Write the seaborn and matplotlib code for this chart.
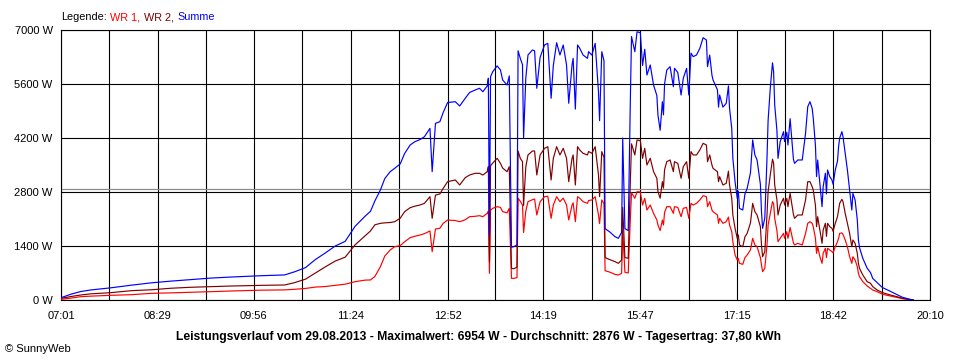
import matplotlib
matplotlib.use("Agg")
import matplotlib.pyplot as plt
import seaborn as sns
import pandas as pd

# ---------------- data ----------------
times = [
    "07:01", "07:10", "07:19", "07:28", "07:46", "08:05", "08:23", "08:41", "08:59", "09:17",
    "09:35", "10:03", "10:24", "10:33", "10:43", "10:52", "11:01", "11:10", "11:19", "11:28",
    "11:37", "11:42", "11:46", "11:51", "11:55", "12:00", "12:04", "12:09", "12:13", "12:18",
    "12:22", "12:27", "12:31", "12:36", "12:38", "12:41", "12:45", "12:48", "12:52", "12:59",
    "13:03", "13:08", "13:12", "13:17", "13:21", "13:24", "13:28", "13:29", "13:30", "13:31",
    "13:33", "13:37", "13:40", "13:42", "13:46", "13:48", "13:50", "13:52", "13:55", "13:56",
    "13:58", "14:00", "14:01", "14:03", "14:05", "14:09", "14:11", "14:13", "14:16", "14:20",
    "14:23", "14:26", "14:28", "14:31", "14:34", "14:37", "14:40", "14:42", "14:45", "14:46",
    "14:48", "14:50", "14:52", "14:55", "14:59", "15:00", "15:03", "15:06", "15:09", "15:10",
    "15:12", "15:14", "15:15", "15:19", "15:24", "15:27", "15:30", "15:31", "15:33", "15:36",
    "15:38", "15:39", "15:42", "15:44", "15:47", "15:49", "15:51", "15:53", "15:56", "15:59",
    "16:02", "16:03", "16:05", "16:07", "16:08", "16:09", "16:11", "16:14", "16:17", "16:18",
    "16:21", "16:24", "16:26", "16:29", "16:31", "16:33", "16:35", "16:38", "16:41", "16:44",
    "16:47", "16:48", "16:50", "16:52", "16:53", "16:57", "16:58", "16:59", "17:02", "17:05",
    "17:07", "17:08", "17:10", "17:11", "17:13", "17:15", "17:16", "17:17", "17:20", "17:22",
    "17:24", "17:27", "17:29", "17:31", "17:33", "17:36", "17:37", "17:38", "17:40", "17:42",
    "17:43", "17:45", "17:47", "17:48", "17:49", "17:51", "17:52", "17:54", "17:57", "17:58",
    "18:00", "18:01", "18:03", "18:06", "18:07", "18:10", "18:14", "18:17", "18:19", "18:21",
    "18:23", "18:24", "18:26", "18:27", "18:28", "18:30", "18:32", "18:33", "18:35", "18:36",
    "18:37", "18:39", "18:41", "18:42", "18:44", "18:46", "18:47", "18:48", "18:50", "18:51",
    "18:53", "18:55", "18:56", "18:57", "18:59", "19:00", "19:02", "19:04", "19:05", "19:06",
    "19:09", "19:13", "19:16", "19:18", "19:22", "19:25", "19:27", "19:34", "19:40", "19:45",
    "19:52", "19:55",
]

summe = [
    60, 150, 220, 260, 315, 385, 445, 490, 530, 568,
    595, 630, 650, 730, 840, 1050, 1220, 1400, 1520, 1910,
    2170, 2300, 2570, 2852, 3150, 3330, 3414, 3530, 3800, 4018,
    4100, 4160, 4235, 4450, 3327, 4580, 4623, 4860, 5120, 5141,
    5030, 5229, 5380, 5444, 5489, 5400, 5550, 5748, 1685, 5790,
    5919, 6070, 5963, 5704, 5574, 5810, 1370, 1380, 1426, 6460,
    6265, 6100, 4200, 5748, 6352, 6482, 6460, 5489, 6290, 6611,
    6654, 5230, 6080, 6670, 6352, 6611, 6093, 5100, 6100, 6265,
    4950, 6611, 6524, 6352, 6265, 6438, 6350, 6654, 5400, 4650,
    6438, 6200, 1850, 1770, 1642, 1599, 1750, 4200, 1850, 1800,
    5300, 6830, 6438, 6954, 6930, 6080, 6500, 5833, 6093, 5574,
    5300, 4796, 4400, 5141, 4800, 5600, 5960, 6050, 5530, 6006,
    5900, 5315, 5750, 6006, 5315, 6400, 6309, 6352, 6524, 6800,
    6740, 6050, 6350, 5833, 5704, 5450, 5000, 5315, 5000, 5100,
    5550, 4970, 4450, 3673, 3068, 2636, 2820, 2377, 2333, 2750,
    2895, 3300, 4150, 3760, 3630, 3000, 2290, 1858, 2118, 3673,
    4650, 5500, 6150, 5919, 5056, 4400, 3673, 4105, 4364, 4105,
    4350, 4019, 4700, 3650, 3543, 3630, 3630, 4321, 5012, 5141,
    4970, 4720, 4000, 3200, 3630, 3025, 2419, 2938, 3285, 2750,
    3371, 3197, 3111, 3000, 3371, 3600, 3975, 4200, 4364, 4235,
    3803, 3371, 3111, 2852, 2333, 2765, 2593, 2074, 1560, 1360,
    1080, 821, 710, 560, 450, 370, 320, 225, 140, 70,
    17, 0,
]

wr2 = [
    43, 90, 130, 160, 190, 242, 265, 305, 330, 346,
    362, 380, 389, 449, 540, 700, 860, 1010, 1110, 1430,
    1660, 1790, 1950, 1988, 2000, 2010, 2030, 2120, 2290, 2394,
    2430, 2463, 2506, 2679, 2117, 2720, 2750, 2895, 3068, 3111,
    2982, 3171, 3241, 3285, 3285, 3240, 3327, 3457, 994, 3480,
    3550, 3673, 3543, 3420, 3327, 3457, 821, 810, 850, 3863,
    3673, 3586, 2450, 3450, 3760, 3863, 3863, 3241, 3760, 3932,
    3975, 3111, 3673, 3975, 3760, 3932, 3673, 3068, 3673, 3760,
    2982, 3975, 3889, 3803, 3760, 3850, 3803, 3975, 3241, 2680,
    3846, 3700, 1100, 1050, 994, 951, 1037, 2400, 1100, 1080,
    3150, 4050, 3760, 4148, 4130, 3673, 3932, 3500, 3673, 3327,
    3155, 2808, 2640, 3068, 2900, 3380, 3586, 3630, 3327, 3586,
    3543, 3155, 3457, 3586, 3155, 3846, 3760, 3760, 3889, 4062,
    4018, 3586, 3760, 3500, 3414, 3327, 3068, 3197, 2982, 3025,
    3340, 2982, 2636, 2204, 1858, 1599, 1685, 1426, 1382, 1640,
    1728, 2000, 2506, 2290, 2204, 1900, 1426, 1123, 1253, 2204,
    2808, 3250, 3650, 3550, 2982, 2600, 2204, 2463, 2636, 2463,
    2636, 2420, 2765, 2220, 2117, 2204, 2204, 2593, 3068, 3068,
    2938, 2852, 2450, 1901, 2160, 1815, 1469, 1815, 1988, 1650,
    1988, 1901, 1858, 1780, 1988, 2160, 2333, 2506, 2610, 2550,
    2247, 1988, 1858, 1728, 1382, 1556, 1469, 1210, 951, 821,
    648, 475, 432, 346, 259, 216, 190, 130, 86, 43,
    9, 0,
]

wr1 = [
    17, 50, 86, 100, 121, 138, 173, 185, 200, 216,
    233, 255, 262, 277, 300, 335, 350, 380, 410, 475,
    515, 520, 610, 864, 1140, 1300, 1382, 1410, 1510, 1616,
    1650, 1685, 1720, 1789, 1253, 1840, 1860, 1988, 2074, 2060,
    2030, 2080, 2160, 2170, 2186, 2160, 2247, 2300, 691, 2330,
    2377, 2420, 2400, 2290, 2260, 2377, 562, 560, 580, 2636,
    2560, 2463, 1750, 2300, 2549, 2600, 2618, 2204, 2549, 2679,
    2690, 2117, 2463, 2679, 2549, 2640, 2463, 2074, 2463, 2520,
    2030, 2679, 2636, 2549, 2506, 2580, 2593, 2679, 2204, 1980,
    2593, 2500, 760, 725, 665, 648, 691, 1800, 720, 700,
    2150, 2780, 2636, 2808, 2800, 2463, 2636, 2333, 2463, 2247,
    2074, 1944, 1800, 2073, 1944, 2270, 2420, 2420, 2247, 2420,
    2400, 2160, 2377, 2400, 2117, 2506, 2463, 2506, 2593, 2705,
    2679, 2420, 2549, 2333, 2290, 2204, 1988, 2117, 1988, 2030,
    2150, 1944, 1771, 1512, 1167, 1037, 1080, 951, 925, 1100,
    1167, 1300, 1599, 1426, 1382, 1100, 907, 734, 821, 1426,
    1944, 2250, 2550, 2500, 2117, 1800, 1512, 1599, 1728, 1599,
    1771, 1599, 1880, 1480, 1426, 1469, 1426, 1728, 1988, 2030,
    1988, 1901, 1600, 1210, 1382, 1123, 951, 1210, 1340, 1100,
    1340, 1296, 1253, 1220, 1382, 1512, 1598, 1728, 1740, 1700,
    1556, 1382, 1253, 1123, 951, 1123, 1037, 864, 691, 605,
    475, 363, 302, 259, 216, 173, 147, 104, 69, 35,
    5, 0,
]

series_names = ["WR 1", "WR 2", "Summe"]
series_colors = ["#FF0000", "#800000", "#0000FF"]
x_tick_labels = ["07:01", "08:29", "09:56", "11:24", "12:52",
                 "14:19", "15:47", "17:15", "18:42", "20:10"]
y_ticks = [0, 1400, 2800, 4200, 5600, 7000]
average_w = 2876
title_text = ("Leistungsverlauf vom 29.08.2013 - Maximalwert: 6954 W - "
              "Durchschnitt: 2876 W - Tagesertrag: 37,80 kWh")
credit_text = "\u00a9 SunnyWeb"


def to_min(s):
    h, m = s.split(":")
    return int(h) * 60 + int(m)


minutes = [to_min(t) for t in times]
n = len(minutes)
df = pd.DataFrame({
    "t": minutes * 3,
    "W": wr1 + wr2 + summe,
    "Serie": [series_names[0]] * n + [series_names[1]] * n + [series_names[2]] * n,
})

# ---------------- style ----------------
sns.set_style("white")
plt.rcParams["font.family"] = ["Liberation Sans", "DejaVu Sans"]

fig = plt.figure(figsize=(9.6, 3.6), dpi=100)
fig.patch.set_facecolor("white")
ax = fig.add_axes([61 / 960, 60 / 360, 869 / 960, 270 / 360])

major_x = [to_min(s) for s in x_tick_labels]
major_x[0] = 421
major_x[-1] = 1210
minor_x = [(a + b) / 2 for a, b in zip(major_x[:-1], major_x[1:])]

ax.set_xlim(major_x[0], major_x[-1])
ax.set_ylim(y_ticks[0], y_ticks[-1])
ax.set_xticks(major_x)
ax.set_xticklabels(x_tick_labels)
ax.set_xticks(minor_x, minor=True)
ax.set_yticks(y_ticks)
ax.set_yticklabels([f"{v} W" for v in y_ticks])

ax.set_axisbelow(True)
ax.grid(True, which="both", color="black", linewidth=0.8)
ax.axhline(average_w, color="#8c8c8c", linewidth=0.9, zorder=1.5)

sns.lineplot(data=df, x="t", y="W", hue="Serie", hue_order=series_names,
             palette=dict(zip(series_names, series_colors)),
             estimator=None, sort=False, linewidth=0.85, legend=False, ax=ax,
             zorder=3)

ax.set_xlabel("")
ax.set_ylabel("")
for sp in ax.spines.values():
    sp.set_visible(True)
    sp.set_color("black")
    sp.set_linewidth(0.8)

ax.tick_params(which="both", direction="out", length=4, width=0.8,
               color="black", labelsize=8, labelcolor="black")
ax.tick_params(axis="x", which="both", pad=4)
ax.tick_params(axis="y", which="both", pad=2)

# ---------------- legend line at the top ----------------
fig.canvas.draw()
renderer = fig.canvas.get_renderer()
x_px = 61
pieces = [("Legende:", "black")] + [
    (name + ("," if i < len(series_names) - 1 else ""), col)
    for i, (name, col) in enumerate(zip(series_names, series_colors))
]
for text, col in pieces:
    t = fig.text(x_px / 960, 1 - 17 / 360, text, color=col, fontsize=7.8,
                 ha="left", va="center")
    bb = t.get_window_extent(renderer)
    x_px = bb.x1 + 3.5

fig.text(479 / 960, 1 - 337 / 360, title_text, fontsize=8.7, fontweight="bold",
         ha="center", va="center", color="black")
fig.text(5 / 960, 1 - 349 / 360, credit_text, fontsize=8,
         ha="left", va="center", color="black")

fig.savefig("out.png", dpi=100, facecolor="white")
